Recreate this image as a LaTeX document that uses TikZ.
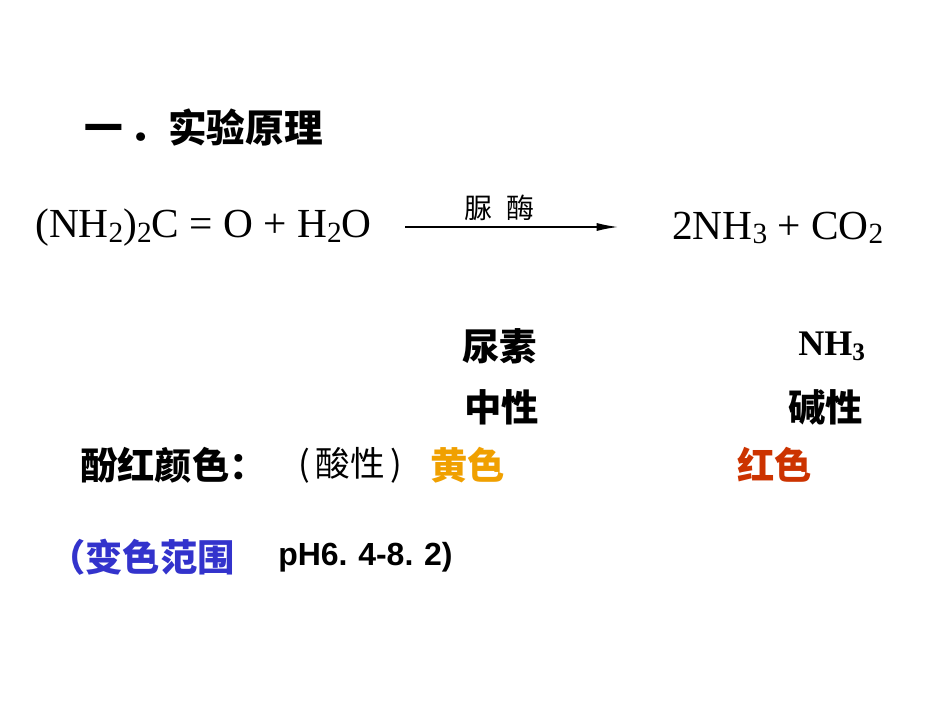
\documentclass[tikz,border=0pt]{standalone}
\usetikzlibrary{arrows.meta}
\usepackage{fontspec}
\setmainfont{Liberation Serif}
\newfontfamily\cjk{Noto Sans CJK SC}
\newfontfamily\sansb{Liberation Sans}
\definecolor{yel}{HTML}{F0A000}
\definecolor{rd}{HTML}{CC3300}
\definecolor{bl}{HTML}{3333CC}
\newcommand{\sbs}[1]{\raisebox{-0.1em}{\fontsize{22}{24}\selectfont #1}}
\begin{document}
\begin{tikzpicture}[x=0.75pt,y=-0.75pt,
  t/.style={anchor=west,inner sep=0pt},
  big/.style={font=\cjk\bfseries\fontsize{28}{30}\selectfont},
  eq/.style={font=\fontsize{31}{33}\selectfont}]
\useasboundingbox[fill=white] (0,0) rectangle (950,713);
\node[t,font=\cjk\bfseries\fontsize{29}{31}\selectfont] (title) at (84,127) {一\,．实验原理};
\node[t,eq] (lhs) at (35,228) {(NH\sbs{2})\sbs{2}C\ =\ O\ +\ H\sbs{2}O};
\coordinate (a1) at (405,227);
\coordinate (a2) at (618,227);
\draw[line width=1pt,-{Latex[length=16pt,width=6pt]}] (a1) -- (a2);
\node[t,font=\cjk\fontsize{21}{23}\selectfont] (enz) at (464,208) {脲\hspace{0.5em}酶};
\node[t,eq] (rhs) at (672,228) {2NH\sbs{3} + CO\sbs{2}};
\node[t,big] (urea) at (462,346) {尿素};
\node[t,font=\bfseries\fontsize{27}{29}\selectfont] (nh3) at (798,346) {NH\textsubscript{3}};
\node[t,big] (neu) at (464,407) {中性};
\node[t,big] (bas) at (788,407) {碱性};
\node[t,big] (pr) at (80,465) {酚红颜色：};
\node[t,font=\cjk\fontsize{26}{28}\selectfont] (acid) at (298,465) {(\,酸性\,)};
\node[t,big,text=yel] (yc) at (430,465) {黄色};
\node[t,big,text=rd] (rc) at (737,465) {红色};
\node[t,big,text=bl] (rng) at (48,557) {（变色范围};
\node[t,font=\sansb\bfseries\fontsize{24}{26}\selectfont] (ph) at (278,557) {pH6.\,\,4-8.\,\,2)};
\end{tikzpicture}
\end{document}
